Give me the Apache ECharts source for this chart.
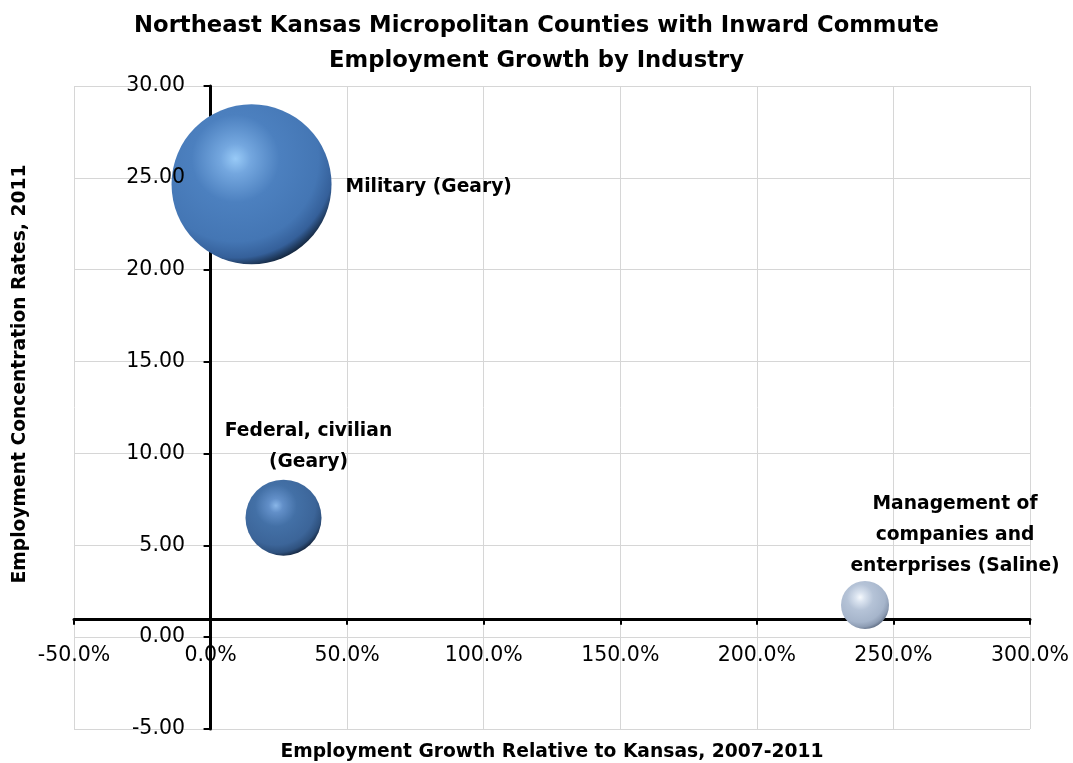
<!DOCTYPE html>
<html>
<head>
<meta charset="utf-8">
<script src="https://cdn.jsdelivr.net/npm/echarts@6/dist/echarts.min.js"></script>
<style>
  html, body { margin: 0; padding: 0; background: #ffffff; }
  #chart { width: 1073px; height: 763px; }
</style>
</head>
<body>
<div id="chart"></div>
<script>
// Industry bubbles: growth relative to Kansas (%), concentration rate, relative employment size
const industries = ['Military (Geary)', 'Federal, civilian\n(Geary)', 'Management of\ncompanies and\nenterprises (Saline)'];
const growthPct = [15.0, 26.7, 239.6];
const concentration = [24.65, 6.50, 1.75];
const bubbleSize = [100, 22.6, 9.0];

// Axis ticks
const xTicks = [-50, 0, 50, 100, 150, 200, 250, 300];
const yTicks = [-5, 0, 5, 10, 15, 20, 25, 30];
const xCrossAt = 1; // horizontal axis crosses the vertical axis at a rate of 1.0

const maxBubbleDiameter = 160;
const sizeMax = Math.max.apply(null, bubbleSize);

function diameter(size) { return maxBubbleDiameter * Math.sqrt(size / sizeMax); }

// shaded sphere: light spot upper left, dark rim lower right
function sphere(c) {
  return {
    type: 'radial', x: 0.4, y: 0.34, r: 0.72,
    colorStops: [
      { offset: 0, color: c[0] },
      { offset: 0.13, color: c[1] },
      { offset: 0.38, color: c[2] },
      { offset: 0.72, color: c[3] },
      { offset: 0.86, color: c[4] },
      { offset: 0.96, color: c[5] },
      { offset: 1, color: c[5] }
    ]
  };
}
const bubbleColors = [
  sphere(['#98caf7', '#74a7df', '#4c80bf', '#4476b4', '#35609a', '#13243a']),
  sphere(['#89b6e8', '#628fc8', '#4370a6', '#3c6599', '#2f527f', '#14233a']),
  sphere(['#f6f9fd', '#dbe4f0', '#b5c3d7', '#a6b5cb', '#8d9cb3', '#5f6d83'])
];

// label anchor relative to each bubble's bounding box
function labelFor(i) {
  const d = diameter(bubbleSize[i]);
  if (i === 0) return { position: [d + 14, d / 2 + 3], align: 'left', verticalAlign: 'middle' };
  if (i === 1) return { position: [d / 2 + 25, -2], align: 'center', verticalAlign: 'bottom' };
  return { position: [d / 2 + 90, 1], align: 'center', verticalAlign: 'bottom' };
}

const points = industries.map(function (name, i) {
  return {
    name: name,
    value: [growthPct[i], concentration[i], bubbleSize[i]],
    itemStyle: { color: bubbleColors[i], opacity: 1 },
    label: Object.assign({ show: true }, labelFor(i))
  };
});

const xMin = xTicks[0], xMax = xTicks[xTicks.length - 1], xStep = xTicks[1] - xTicks[0];
const yMin = yTicks[0], yMax = yTicks[yTicks.length - 1], yStep = yTicks[1] - yTicks[0];

const chart = echarts.init(document.getElementById('chart'), null, { renderer: 'canvas' });

const gridColor = '#d6d6d6';
const tickFont = { fontFamily: 'DejaVu Sans', fontSize: 20.5, color: '#000' };
const boldFont = { fontFamily: 'DejaVu Sans', fontWeight: 'bold', fontSize: 18.7 };

chart.setOption({
  animation: false,
  backgroundColor: '#ffffff',
  title: {
    text: 'Northeast Kansas Micropolitan Counties with Inward Commute\nEmployment Growth by Industry',
    left: 'center',
    top: 4,
    textStyle: { fontFamily: 'DejaVu Sans', fontWeight: 'bold', fontSize: 22.7, lineHeight: 35, color: '#000' }
  },
  grid: { left: 74, right: 43, top: 86, bottom: 34, containLabel: false, outerBoundsMode: 'none' },
  xAxis: [{
    type: 'value', min: xMin, max: xMax, interval: xStep,
    axisLine: { show: true, onZero: true, onZeroAxisIndex: 1, lineStyle: { color: '#000', width: 3 } },
    axisTick: { show: true, length: 6, lineStyle: { color: '#000', width: 2 } },
    axisLabel: Object.assign({ margin: -84, formatter: function (v) { return v.toFixed(1) + '%'; } }, tickFont),
    splitLine: { show: true, lineStyle: { color: gridColor, width: 1 } }
  }],
  yAxis: [{
    type: 'value', min: yMin, max: yMax, interval: yStep,
    axisLine: { show: true, onZero: true, onZeroAxisIndex: 0, lineStyle: { color: '#000', width: 3 } },
    axisTick: { show: true, length: 7, lineStyle: { color: '#000', width: 2 } },
    axisLabel: { show: false },
    splitLine: { show: true, lineStyle: { color: gridColor, width: 1 } }
  }, {
    // shifted scale whose zero sits at the crossing value of the horizontal axis
    type: 'value', min: yMin - xCrossAt, max: yMax - xCrossAt, show: false,
    axisLine: { onZero: false }, splitLine: { show: false }
  }, {
    // tick labels, kept above the bubbles
    type: 'value', min: yMin, max: yMax, interval: yStep, z: 10, position: 'left', offset: 0,
    axisLine: { show: false, onZero: false },
    axisTick: { show: false },
    splitLine: { show: false },
    axisLabel: Object.assign({ margin: -111, formatter: function (v) { return v.toFixed(2); } }, tickFont)
  }],
  graphic: [{
    type: 'text', x: 552, y: 752, z: 20,
    style: Object.assign({ text: 'Employment Growth Relative to Kansas, 2007-2011', fill: '#000', align: 'center', verticalAlign: 'middle' }, boldFont)
  }, {
    type: 'text', x: 20, y: 374, rotation: Math.PI / 2, z: 20,
    style: Object.assign({ text: 'Employment Concentration Rates, 2011', fill: '#000', align: 'center', verticalAlign: 'middle' }, boldFont)
  }],
  series: [{
    type: 'scatter',
    xAxisIndex: 0,
    yAxisIndex: 0,
    z: 3,
    data: points,
    symbol: 'circle',
    itemStyle: { opacity: 1 },
    symbolSize: function (val) { return diameter(val[2]); },
    label: Object.assign({
      show: true,
      formatter: '{b}',
      lineHeight: 31, color: '#000', opacity: 1
    }, boldFont),
    emphasis: { disabled: true }
  }]
});
</script>
</body>
</html>
